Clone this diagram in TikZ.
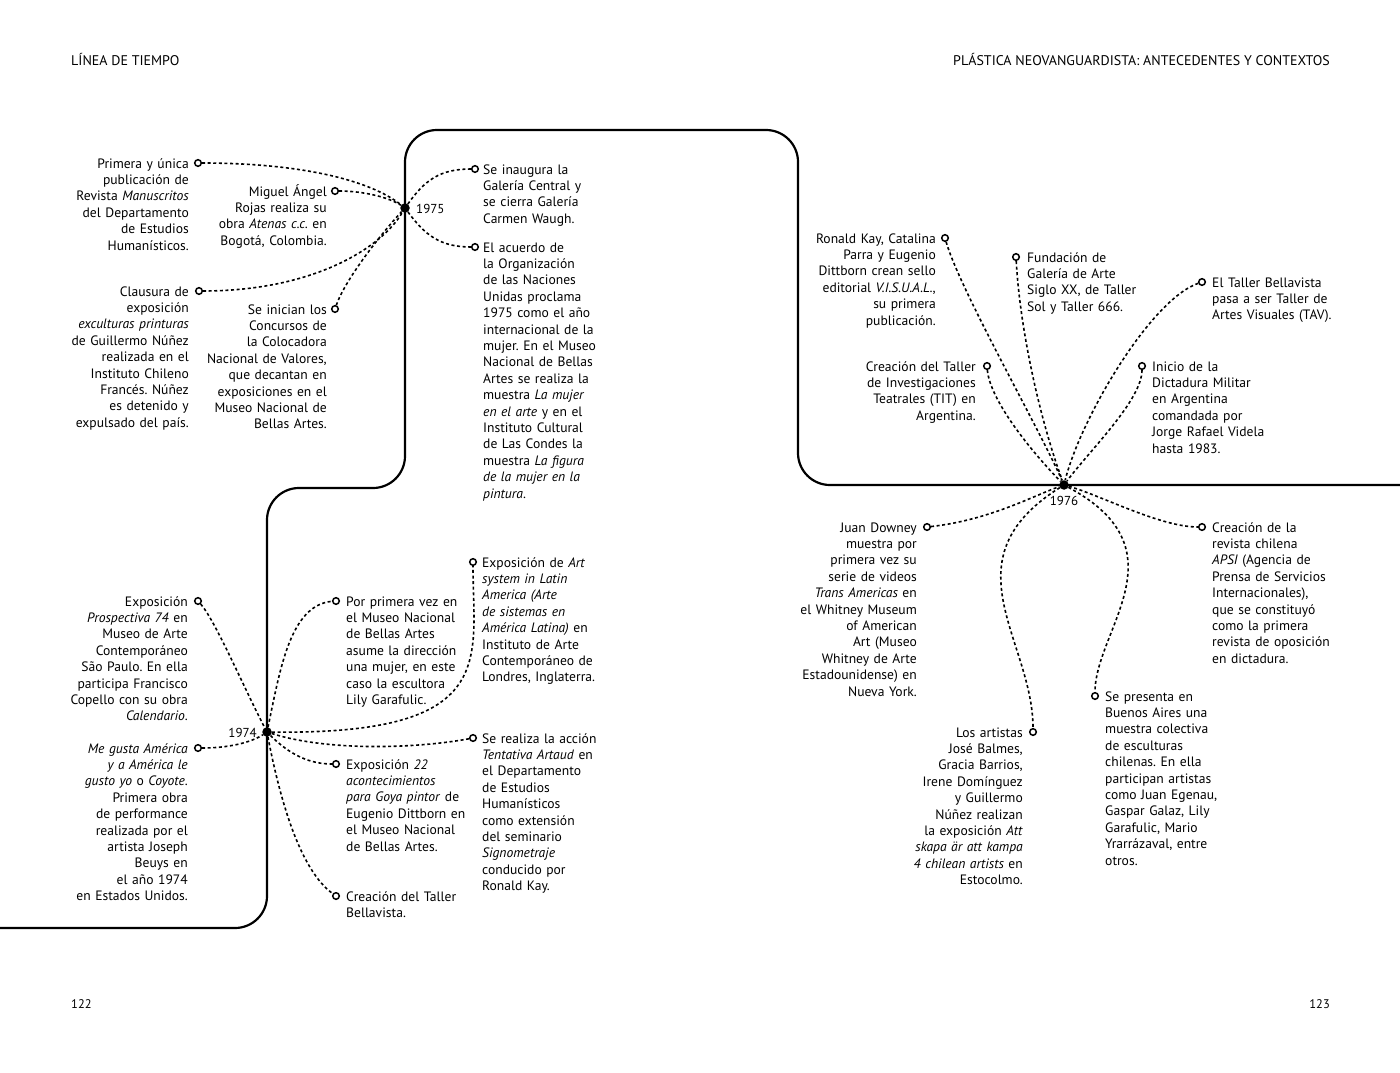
\documentclass[tikz,border=0pt]{standalone}
\usepackage{fontspec}
\setmainfont{PT Sans}
\frenchspacing
\tikzset{
  mainline/.style={line width=2.2pt, rounded corners=32pt},
  conn/.style={line width=1.6pt, dash pattern=on 3pt off 2.6pt},
  ev/.style={circle, draw, line width=1.5pt, inner sep=0pt, minimum size=6.6pt, fill=white},
  yr/.style={circle, fill=black, inner sep=0pt, minimum size=9.5pt},
  txtR/.style={anchor=base east, text width=170pt, align=right, inner sep=0pt, font=\fontsize{13.6}{16.4}\selectfont},
  txtL/.style={anchor=base west, text width=170pt, align=left, inner sep=0pt, font=\fontsize{13.6}{16.4}\selectfont},
  yrlabel/.style={inner sep=0pt, font=\fontsize{13}{15}\selectfont},
  hdr/.style={inner sep=0pt, font=\fontsize{14}{16}\selectfont},
}
\begin{document}
\begin{tikzpicture}[x=1pt,y=-1pt]
\path[use as bounding box, fill=white] (0,0) rectangle (1400,1073);

% headers and page numbers
\node[hdr, anchor=base west] (h1) at (71,66) {LÍNEA DE TIEMPO};
\node[hdr, anchor=base east] (h2) at (1330,66) {PLÁSTICA NEOVANGUARDISTA: ANTECEDENTES Y CONTEXTOS};
\node[hdr, anchor=base west, font=\fontsize{12.5}{14}\selectfont] (p1) at (71,1008) {122};
\node[hdr, anchor=base east, font=\fontsize{12.5}{14}\selectfont] (p2) at (1330,1008) {123};

% main timeline
\draw[mainline] (0,928) -- (267,928) -- (267,488) -- (405,488) -- (405,130) -- (798,130) -- (798,485) -- (1400,485);

% year dots
\node[yr] (d75) at (405,208) {};
\node[yr] (d74) at (267,732) {};
\node[yr] (d76) at (1064,485) {};
\node[yrlabel, anchor=base west] (y75) at (416,213) {1975};
\node[yrlabel, anchor=base east] (y74) at (257,737) {1974};
\node[yrlabel, anchor=base] (y76) at (1064,505) {1976};

% ---------- 1975 ----------
\node[ev] (e75a) at (198,163) {};
\node[txtR] (t75a) at (189,168) {Primera y única\\publicación de\\Revista \textit{Manuscritos}\\del Departamento\\de Estudios\\Humanísticos.};
\node[ev] (e75b) at (335,191) {};
\node[txtR] (t75b) at (327,196) {Miguel Ángel\\Rojas realiza su\\obra \textit{Atenas c.c.} en\\Bogotá, Colombia.};
\node[ev] (e75c) at (199,291) {};
\node[txtR] (t75c) at (189,296) {Clausura de\\exposición\\\textit{exculturas printuras}\\de Guillermo Núñez\\realizada en el\\Instituto Chileno\\Francés. Núñez\\es detenido y\\expulsado del país.};
\node[ev] (e75d) at (335,309) {};
\node[txtR] (t75d) at (327,314) {Se inician los\\Concursos de\\la Colocadora\\Nacional de Valores,\\que decantan en\\exposiciones en el\\Museo Nacional de\\Bellas Artes.};
\node[ev] (e75e) at (475,169) {};
\node[txtL] (t75e) at (483,174) {Se inaugura la\\Galería Central y\\se cierra Galería\\Carmen Waugh.};
\node[ev] (e75f) at (475,247) {};
\node[txtL] (t75f) at (483,252) {El acuerdo de\\la Organización\\de las Naciones\\Unidas proclama\\1975 como el año\\internacional de la\\mujer. En el Museo\\Nacional de Bellas\\Artes se realiza la\\muestra \textit{La mujer}\\\textit{en el arte} y en el\\Instituto Cultural\\de Las Condes la\\muestra \textit{La figura}\\\textit{de la mujer en la}\\\textit{pintura}.};

\draw[conn] (e75a) .. controls (300,163) and (370,180) .. (d75);
\draw[conn] (e75b) .. controls (365,191) and (390,198) .. (d75);
\draw[conn] (e75c) .. controls (310,291) and (380,250) .. (d75);
\draw[conn] (e75d) .. controls (345,280) and (380,235) .. (d75);
\draw[conn] (d75) .. controls (425,180) and (440,169) .. (e75e);
\draw[conn] (d75) .. controls (425,235) and (440,247) .. (e75f);

% ---------- 1976 ----------
\node[ev] (eA) at (945,238) {};
\node[txtR] (tA) at (936,243) {Ronald Kay, Catalina\\Parra y Eugenio\\Dittborn crean sello\\editorial \textit{V.I.S.U.A.L.},\\su primera\\publicación.};
\node[ev] (eB) at (1016,257) {};
\node[txtL] (tB) at (1027,262) {Fundación de\\Galería de Arte\\Siglo XX, de Taller\\Sol y Taller 666.};
\node[ev] (eC) at (1202,282) {};
\node[txtL] (tC) at (1212,287) {El Taller Bellavista\\pasa a ser Taller de\\Artes Visuales (TAV).};
\node[ev] (eD) at (987,366) {};
\node[txtR] (tD) at (976,371) {Creación del Taller\\de Investigaciones\\Teatrales (TIT) en\\Argentina.};
\node[ev] (eE) at (1142,366) {};
\node[txtL] (tE) at (1152,371) {Inicio de la\\Dictadura Militar\\en Argentina\\comandada por\\Jorge Rafael Videla\\hasta 1983.};
\node[ev] (eF) at (927,527) {};
\node[txtR] (tF) at (917,532) {Juan Downey\\muestra por\\primera vez su\\serie de videos\\\textit{Trans Americas} en\\el Whitney Museum\\of American\\Art (Museo\\Whitney de Arte\\Estadounidense) en\\Nueva York.};
\node[ev] (eG) at (1202,527) {};
\node[txtL] (tG) at (1212,532) {Creación de la\\revista chilena\\\textit{APSI} (Agencia de\\Prensa de Servicios\\Internacionales),\\que se constituyó\\como la primera\\revista de oposición\\en dictadura.};
\node[ev] (eH) at (1033,732) {};
\node[txtR] (tH) at (1023,737) {Los artistas\\José Balmes,\\Gracia Barrios,\\Irene Domínguez\\y Guillermo\\Núñez realizan\\la exposición \textit{Att}\\\textit{skapa är att kampa}\\\textit{4 chilean artists} en\\Estocolmo.};
\node[ev] (eI) at (1095,696) {};
\node[txtL] (tI) at (1105,701) {Se presenta en\\Buenos Aires una\\muestra colectiva\\de esculturas\\chilenas. En ella\\participan artistas\\como Juan Egenau,\\Gaspar Galaz, Lily\\Garafulic, Mario\\Yrarrázaval, entre\\otros.};

\draw[conn] (eA) .. controls (960,290) and (1040,430) .. (d76);
\draw[conn] (eB) .. controls (1020,330) and (1040,420) .. (d76);
\draw[conn] (eC) .. controls (1150,300) and (1080,420) .. (d76);
\draw[conn] (eD) .. controls (990,400) and (1030,450) .. (d76);
\draw[conn] (eE) .. controls (1142,400) and (1090,450) .. (d76);
\draw[conn] (eF) .. controls (990,520) and (1035,495) .. (d76);
\draw[conn] (d76) .. controls (1100,495) and (1160,527) .. (eG);
\draw[conn] (d76) .. controls (945,560) and (1033,640) .. (eH);
\draw[conn] (d76) .. controls (1185,550) and (1095,630) .. (eI);

% ---------- 1974 ----------
\node[ev] (e74a) at (198,601) {};
\node[txtR] (t74a) at (188,606) {Exposición\\\textit{Prospectiva 74} en\\Museo de Arte\\Contemporáneo\\São Paulo. En ella\\participa Francisco\\Copello con su obra\\\textit{Calendario}.};
\node[ev] (e74b) at (198,748) {};
\node[txtR] (t74b) at (188,753) {\textit{Me gusta América}\\\textit{y a América le}\\\textit{gusto yo} o \textit{Coyote}.\\Primera obra\\de performance\\realizada por el\\artista Joseph\\Beuys en\\el año 1974\\en Estados Unidos.};
\node[ev] (e74c) at (336,601) {};
\node[txtL] (t74c) at (346,606) {Por primera vez en\\el Museo Nacional\\de Bellas Artes\\asume la dirección\\una mujer, en este\\caso la escultora\\Lily Garafulic.};
\node[ev] (e74d) at (473,562) {};
\node[txtL] (t74d) at (482,567) {Exposición de \textit{Art}\\\textit{system in Latin}\\\textit{America (Arte}\\\textit{de sistemas en}\\\textit{América Latina)} en\\Instituto de Arte\\Contemporáneo de\\Londres, Inglaterra.};
\node[ev] (e74e) at (473,738) {};
\node[txtL] (t74e) at (482,743) {Se realiza la acción\\\textit{Tentativa Artaud} en\\el Departamento\\de Estudios\\Humanísticos\\como extensión\\del seminario\\\textit{Signometraje}\\conducido por\\Ronald Kay.};
\node[ev] (e74f) at (336,764) {};
\node[txtL] (t74f) at (346,769) {Exposición \textit{22}\\\textit{acontecimientos}\\\textit{para Goya pintor} de\\Eugenio Dittborn en\\el Museo Nacional\\de Bellas Artes.};
\node[ev] (e74g) at (336,896) {};
\node[txtL] (t74g) at (346,901) {Creación del Taller\\Bellavista.};

\draw[conn] (e74a) .. controls (215,620) and (245,690) .. (d74);
\draw[conn] (e74b) .. controls (235,748) and (255,740) .. (d74);
\draw[conn] (d74) .. controls (280,670) and (290,605) .. (e74c);
\draw[conn] (d74) .. controls (500,735) and (473,660) .. (e74d);
\draw[conn] (d74) .. controls (330,752) and (420,748) .. (e74e);
\draw[conn] (d74) .. controls (290,755) and (310,764) .. (e74f);
\draw[conn] (d74) .. controls (280,800) and (300,870) .. (e74g);
\end{tikzpicture}
\end{document}
